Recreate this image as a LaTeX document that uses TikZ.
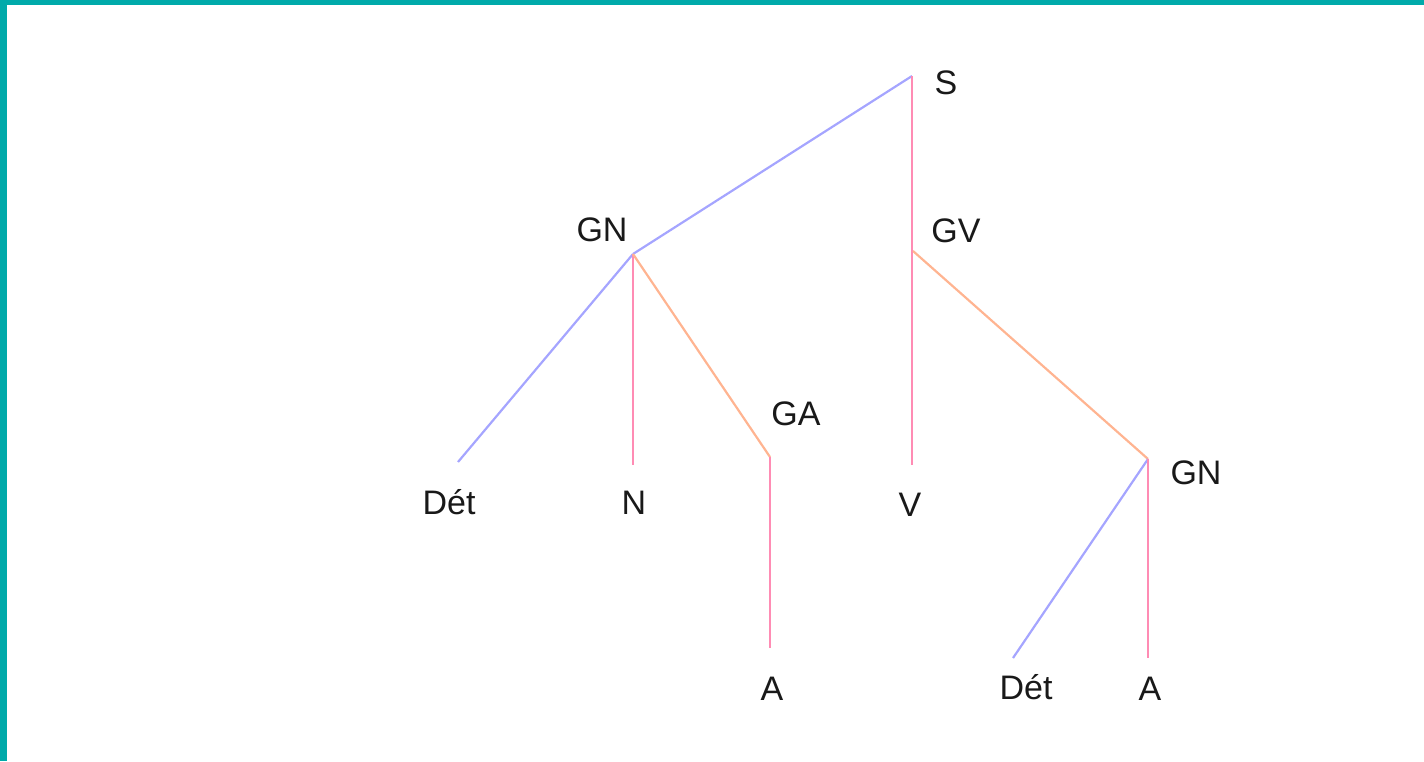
\documentclass[tikz,border=0pt]{standalone}
\usepackage{fontspec}
\setmainfont{Liberation Sans}
\definecolor{teal}{RGB}{0,170,170}
\definecolor{lblue}{RGB}{165,165,255}
\definecolor{lpink}{RGB}{255,140,180}
\definecolor{lorange}{RGB}{255,180,145}
\begin{document}
\begin{tikzpicture}[x=0.5pt,y=-0.5pt,
  lbl/.style={anchor=base,inner sep=0pt,font=\fontsize{17}{20}\selectfont,text=black!90},
  bl/.style={draw=lblue,line width=1.1pt},
  pk/.style={draw=lpink,line width=1.2pt},
  og/.style={draw=lorange,line width=1.1pt}]
\useasboundingbox (0,0) rectangle (1424,761);
\fill[teal] (0,0) rectangle (1424,5);
\fill[teal] (0,0) rectangle (7,761);
% vertices
\coordinate (S) at (912,76);
\coordinate (GN1) at (633,254);
\coordinate (GV) at (913,251);
\coordinate (GA) at (770,457);
\coordinate (GN2) at (1148,459);
\coordinate (Det1) at (458,462);
\coordinate (N) at (633,465);
\coordinate (V) at (912,465);
\coordinate (A1) at (770,648);
\coordinate (Det2) at (1013,658);
\coordinate (A2) at (1148,658);
% connectors
\draw[bl] (S) -- (GN1);
\draw[pk] (S) -- (V);
\draw[bl] (GN1) -- (Det1);
\draw[pk] (GN1) -- (N);
\draw[og] (GN1) -- (GA);
\draw[pk] (GA) -- (A1);
\draw[og] (GV) -- (GN2);
\draw[bl] (GN2) -- (Det2);
\draw[pk] (GN2) -- (A2);
% labels
\node[lbl] (tS) at (946,94) {S};
\node[lbl] (tGN1) at (602,241) {GN};
\node[lbl] (tGV) at (956,242) {GV};
\node[lbl] (tGA) at (796,425) {GA};
\node[lbl] (tDet1) at (449,514) {Dét};
\node[lbl] (tN) at (634,514) {N};
\node[lbl] (tV) at (910,516) {V};
\node[lbl] (tGN2) at (1196,484) {GN};
\node[lbl] (tA1) at (772,700) {A};
\node[lbl] (tDet2) at (1026,699) {Dét};
\node[lbl] (tA2) at (1150,700) {A};
\end{tikzpicture}
\end{document}
